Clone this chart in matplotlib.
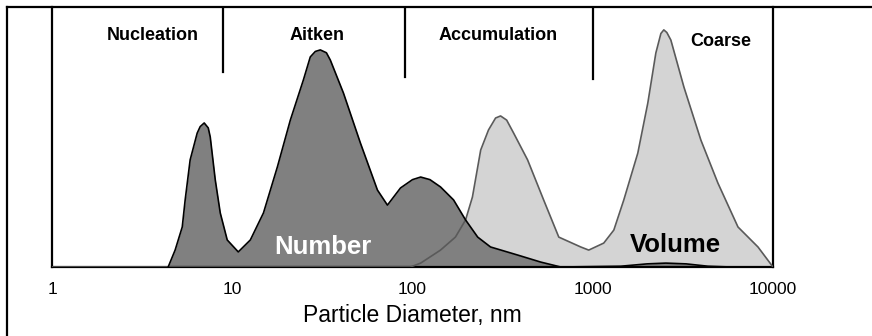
import matplotlib
matplotlib.use("Agg")
import matplotlib.pyplot as plt
from matplotlib.lines import Line2D

plt.rcParams["font.family"] = ["Liberation Sans", "DejaVu Sans"]

# Number distribution (diameter in nm, relative height)
num_d = [4.41, 4.82, 5.28, 5.48, 5.84, 6.39, 6.64, 6.99, 7.36, 7.55, 8.05, 8.58,
         9.38, 10.8, 12.6, 14.9, 17.8, 21.0, 24.8, 27.1, 28.9, 30.8, 33.3, 35.0,
         41.4, 51.4, 63.9, 72.6, 85.8, 100, 111, 125, 143, 169, 197, 230, 271,
         383, 514, 664, 1431, 2000, 2545, 3300, 4355, 5843]
num_h = [0, 6.5, 15.4, 25.8, 41.2, 51.5, 54.0, 55.4, 53.5, 50, 33.5, 20.8,
         10.4, 5.8, 10.4, 20.8, 38.5, 56.5, 71.9, 80.8, 82.9, 83.5, 82.4, 79.6,
         66.9, 47.7, 29.6, 23.8, 30.4, 33.6, 34.6, 33.6, 30.8, 25.8, 18.1, 11.5,
         7.7, 4.6, 1.9, 0, 0.3, 1.2, 1.5, 1.2, 0.3, 0]

# Volume distribution
vol_d = [1, 97.5, 111, 143, 173, 197, 215, 239, 264, 289, 308, 333, 364, 435,
         534, 648, 858, 950, 1151, 1309, 1487, 1778, 2021, 2239, 2388, 2479,
         2576, 2712, 3205, 3981, 4946, 6392, 8254, 10000]
vol_h = [0, 0, 1.5, 6.5, 11.5, 18.1, 26.9, 45, 52.7, 57.3, 58.1, 56.5, 51.5,
         41.2, 25.8, 11.5, 7.7, 6.5, 9.2, 14.2, 25.8, 43.8, 63.1, 82.3, 89.8,
         91.2, 90.2, 87.3, 69.2, 48.8, 32.3, 15.4, 7.7, 0]

# mode boundaries and labels
bounds = [8.9, 91, 1000]
bound_top = [0.75, 0.73, 0.723]
modes = ["Nucleation", "Aitken", "Accumulation", "Coarse"]
mode_x = [3.64, 29.7, 300, 5140]
mode_y = [89.2, 89.2, 89.2, 86.9]

ticks = [1, 10, 100, 1000, 10000]
tick_labels = ["1", "10", "100", "1000", "10000"]

fig = plt.figure(figsize=(8.72, 3.36), dpi=100)
ax = fig.add_axes([52 / 872, 1 - 267 / 336, (773 - 52) / 872, 260 / 336])

ax.fill_between(vol_d, vol_h, color="#d4d4d4", lw=0, zorder=1)
ax.fill_between(num_d, num_h, color="#808080", lw=0, zorder=2)
ax.plot(vol_d, vol_h, color="#5a5a5a", lw=1.2, zorder=3)
ax.plot(num_d, num_h, color="black", lw=1.2, zorder=4)

for b, t in zip(bounds, bound_top):
    ax.axvline(b, ymin=t, ymax=1, color="black", lw=1.6)

for name, x, y in zip(modes, mode_x, mode_y):
    ax.text(x, y, name, ha="center", va="center", fontsize=13, fontweight="bold")

ax.text(32, 7.7, "Number", ha="center", va="center", fontsize=18.5,
        fontweight="bold", color="white", zorder=5)
ax.text(2890, 8.5, "Volume", ha="center", va="center", fontsize=18.5,
        fontweight="bold", color="black", zorder=5)

ax.set_xscale("log")
ax.set_xlim(1, 10000)
ax.set_ylim(0, 100)
ax.set_xticks(ticks)
ax.set_xticklabels(tick_labels)
ax.minorticks_off()
ax.tick_params(axis="x", length=0, pad=11, labelsize=12.5)
ax.set_yticks([])
ax.spines["top"].set_visible(False)
for s in ["left", "bottom", "right"]:
    ax.spines[s].set_linewidth(1.6)
ax.set_xlabel("Particle Diameter, nm", fontsize=16.5, labelpad=5)

# outer frame (left and top edges only visible)
fig.add_artist(Line2D([7 / 872, 7 / 872], [0, 1 - 7 / 336], color="black", lw=1.6))
fig.add_artist(Line2D([7 / 872, 1], [1 - 7 / 336, 1 - 7 / 336], color="black", lw=1.6))

fig.savefig("out.png", dpi=100)
